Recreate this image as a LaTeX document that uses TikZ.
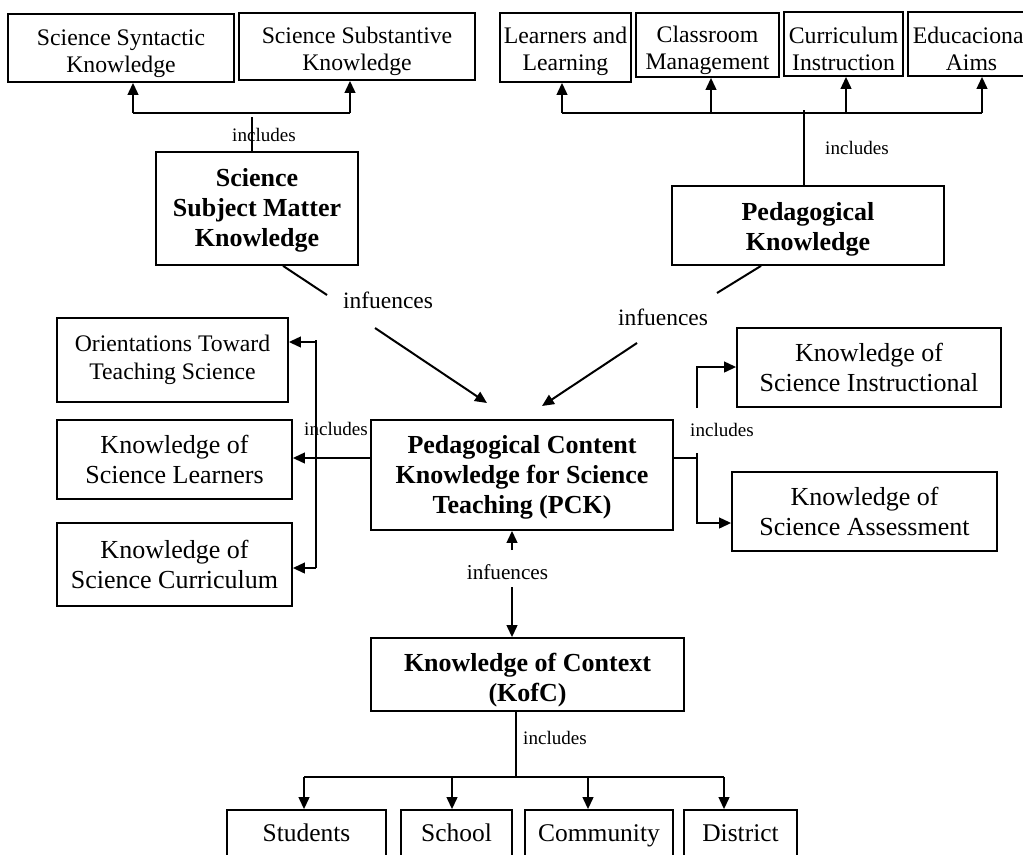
\documentclass[tikz,border=0pt]{standalone}
\usepackage{fontspec}
\setmainfont{Liberation Serif}
\usetikzlibrary{arrows.meta}
\newcommand{\myfa}{\fontsize{17.8}{20.25}\selectfont}
\newcommand{\myfo}{\fontsize{17.8}{21}\selectfont}
\newcommand{\myfb}{\fontsize{19.5}{22.5}\selectfont}
\newcommand{\myfc}{\fontsize{19.1}{22}\selectfont}
\newcommand{\mystrut}[1]{\rule{0pt}{#1}}
\tikzset{
  bx/.style={draw, line width=1.3pt, inner sep=0pt, align=center},
  sz/.style 2 args={minimum width=#1*0.75pt, minimum height=#2*0.75pt},
  arr/.style={line width=1.5pt, -{Triangle[length=9pt,width=8pt]}},
  ln/.style={line width=1.5pt},
  thinln/.style={line width=1.1pt},
  smalltxt/.style={font=\fontsize{14.3}{16}\selectfont, inner sep=0pt},
  inftxt/.style={font=\fontsize{17.6}{20}\selectfont, inner sep=0pt},
  inftxtb/.style={font=\fontsize{15.9}{18}\selectfont, inner sep=0pt},
  botbx/.style={bx, font=\myfc, text height=13.2pt, text depth=0pt},
}
\begin{document}
\begin{tikzpicture}[x=0.75pt,y=-0.75pt]
\useasboundingbox (0,0) rectangle (1023,854);
\clip (0,0) rectangle (1023,854);
% ---------- nodes ----------
\node[bx, sz={226}{68}, font=\myfa] (syn) at (121,48) {\mystrut{19.7pt}Science Syntactic\\Knowledge};
\node[bx, sz={236}{67}, font=\myfa] (sub) at (357,46.5) {\mystrut{19.7pt}Science Substantive\\Knowledge};
\node[bx, sz={202}{113}, font=\myfb\bfseries] (smk) at (257,208.5) {\mystrut{16.4pt}Science\\Subject Matter\\Knowledge};
\node[bx, sz={131}{69}, font=\myfa] (lea) at (565.5,47.5) {\mystrut{18.5pt}Learners and\\Learning};
\node[bx, sz={143}{64}, font=\myfa] (cla) at (707.5,45) {\mystrut{20.5pt}Classroom\\Management};
\node[bx, sz={119}{64}, font=\myfa] (cur) at (843.5,44) {\mystrut{19.7pt}Curriculum\\Instruction};
\node[bx, sz={127}{64}, font=\myfa] (edu) at (971.5,44) {\mystrut{19.7pt}Educacional\\Aims};
\node[bx, sz={272}{79}, font=\myfb\bfseries] (pk) at (808,225.5) {\mystrut{18.7pt}Pedagogical\\Knowledge};
\node[bx, sz={231}{84}, font=\myfo] (ori) at (172.5,360) {Orientations Toward\\Teaching Science};
\node[bx, sz={235}{79}, font=\myfb] (ksl) at (174.5,459.5) {Knowledge of\\Science Learners};
\node[bx, sz={235}{83}, font=\myfb] (ksc) at (174.5,564.5) {Knowledge of\\Science Curriculum};
\node[bx, sz={302}{110}, font=\myfb\bfseries] (pck) at (522,475) {\mystrut{17.2pt}Pedagogical Content\\Knowledge for Science\\Teaching (PCK)};
\node[bx, sz={264}{79}, font=\myfb] (ins) at (869,367.5) {Knowledge of\\Science Instructional};
\node[bx, sz={265}{79}, font=\myfb] (ass) at (864.5,511.5) {Knowledge of\\Science Assessment};
\node[bx, sz={313}{73}, font=\myfb\bfseries] (kofc) at (527.5,674.5) {\mystrut{22.4pt}Knowledge of Context\\(KofC)};
\node[botbx, sz={159}{46}] (stu) at (306.5,833) {Students};
\node[botbx, sz={111}{46}] (sch) at (456.5,833) {School};
\node[botbx, sz={148}{46}] (com) at (599,833) {Community};
\node[botbx, sz={113}{46}] (dis) at (740.5,833) {District};
% ---------- labels ----------
\node[smalltxt] (inc1) at (264,135) {includes};
\node[smalltxt] (inc2) at (857,148) {includes};
\node[smalltxt] (inc3) at (336,429) {includes};
\node[smalltxt] (inc4) at (722,430) {includes};
\node[smalltxt] (inc5) at (555,738) {includes};
\node[inftxt] (inf1) at (388,300) {infuences};
\node[inftxt] (inf2) at (663,317) {infuences};
\node[inftxtb] (inf3) at (507.5,572) {infuences};
% ---------- top-left: SMK includes ----------
\coordinate (a0) at (252,113);
\coordinate (a1) at (133,113);
\coordinate (a2) at (350,113);
\draw[thinln] ([xshift=-3.75pt]smk.north) -- ([yshift=-3pt]a0);
\draw[ln] (a1) -- (a2);
\draw[arr] (a1) -- (a1 |- syn.south);
\draw[arr] (a2) -- (a2 |- sub.south);
% ---------- top-right: PK includes ----------
\coordinate (b0) at (804,110);
\coordinate (b1) at (562,113);
\coordinate (b2) at (711,113);
\coordinate (b3) at (846,113);
\coordinate (b4) at (982,113);
\draw[thinln] (pk.north -| b0) -- (b0);
\draw[ln] (b1) -- (b4);
\draw[arr] (b1) -- (b1 |- lea.south);
\draw[arr] (b2) -- (b2 |- cla.south);
\draw[arr] (b3) -- (b3 |- cur.south);
\draw[arr] (b4) -- (b4 |- edu.south);
% ---------- influences into PCK ----------
\coordinate (p1) at (327,295);
\coordinate (p2) at (375,328);
\coordinate (p3) at (487,403);
\draw[ln] ([xshift=19.5pt]smk.south) -- (p1);
\draw[arr] (p2) -- (p3);
\coordinate (q1) at (717,293);
\coordinate (q2) at (637,343);
\coordinate (q3) at (542,406);
\draw[ln] ([xshift=-35.25pt]pk.south) -- (q1);
\draw[arr] (q2) -- (q3);
% ---------- PCK includes (left) ----------
\coordinate (c1) at (316,342);
\coordinate (c2) at (316,568);
\draw[thinln] ([yshift=1.5pt]c1) -- (c2);
\draw[arr] (c1) -- (c1 -| ori.east);
\draw[arr] (c2) -- (c2 -| ksc.east);
\draw[arr] ([yshift=12.75pt]pck.west) -- ([yshift=12.75pt]pck.west -| ksl.east);
% ---------- PCK includes (right) ----------
\coordinate (d0) at (697,458);
\coordinate (d1) at (697,453);
\coordinate (d2) at (697,523);
\coordinate (d3) at (697,408);
\coordinate (d4) at (697,367);
\draw[ln] ([yshift=12.75pt]pck.east) -- (d0);
\draw[arr] (d1) -- (d2) -- (d2 -| ass.west);
\draw[arr] (d3) -- (d4) -- (d4 -| ins.west);
% ---------- KofC influences ----------
\coordinate (e1) at (512,550);
\coordinate (e2) at (512,587);
\draw[arr] (e1) -- (e1 |- pck.south);
\draw[arr] (e2) -- (e2 |- kofc.north);
% ---------- KofC includes ----------
\coordinate (f0) at (516,777);
\coordinate (g1) at (304,777);
\coordinate (g2) at (452,777);
\coordinate (g3) at (588,777);
\coordinate (g4) at (724,777);
\draw[thinln] (kofc.south -| f0) -- (f0);
\draw[ln] (g1) -- (g4);
\draw[arr] (g1) -- (g1 |- stu.north);
\draw[arr] (g2) -- (g2 |- sch.north);
\draw[arr] (g3) -- (g3 |- com.north);
\draw[arr] (g4) -- (g4 |- dis.north);
\end{tikzpicture}
\end{document}
